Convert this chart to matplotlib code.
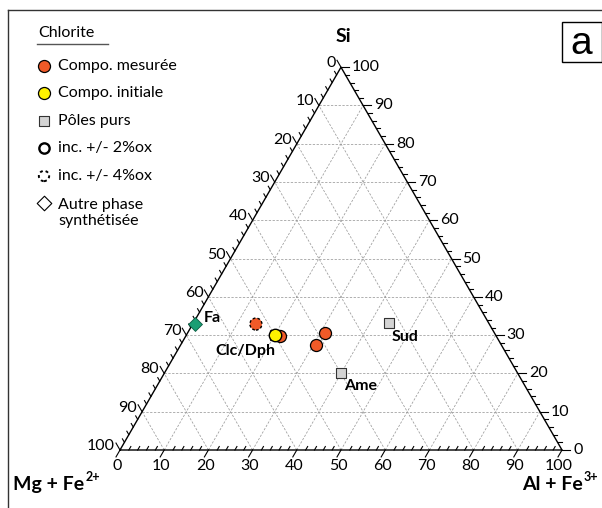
import matplotlib
matplotlib.use('Agg')
import matplotlib.pyplot as plt
from matplotlib.patches import Rectangle
from matplotlib.lines import Line2D
import numpy as np

plt.rcParams['font.family'] = ['Lato', 'DejaVu Sans']

# compositions in % : Si (top), Al + Fe3+ (right); Mg + Fe2+ is the remainder
mesure_si = [29.8, 30.6, 27.4]
mesure_al = [21.3, 31.1, 30.6]
mesure4_si = [32.9]
mesure4_al = [14.3]
initiale_si = [30.0]
initiale_al = [20.0]
pole_names = ['Clc/Dph', 'Sud', 'Ame']
pole_si = [30.0, 33.2, 20.0]
pole_al = [20.0, 44.3, 40.0]
autre_names = ['Fa']
autre_si = [33.0]
autre_al = [0.5]

major = list(range(0, 101, 10))
minor = [v for v in range(0, 101, 2) if v % 10]

W, H = 602, 508
SCALE = 442.0          # triangle side in pixels
X0, Y0 = 120.0, 450.0  # bottom-left corner in pixels
H3 = np.sqrt(3) / 2


def tern(si, al):
    si = np.asarray(si, float) / 100
    al = np.asarray(al, float) / 100
    return al + si / 2, si * H3


def fpx(x, y):
    return x / W, 1 - y / H


def apx(x, y):
    # figure pixel -> axes data
    return (x - X0) / SCALE, (Y0 - y) / SCALE


fig = plt.figure(figsize=(W / 100, H / 100), dpi=100)
ax = fig.add_axes([0, 0, 1, 1])
ax.set_xlim(-X0 / SCALE, (W - X0) / SCALE)
ax.set_ylim((Y0 - H) / SCALE, Y0 / SCALE)
ax.set_aspect('equal')
ax.axis('off')

# grid
grid_kw = dict(color='#9a9a9a', lw=0.55, ls=(0, (3, 2)), zorder=1)
for v in major[1:-1]:
    x, y = tern([v, v], [0, 100 - v])
    ax.plot(x, y, **grid_kw)
    x, y = tern([0, 100 - v], [v, v])
    ax.plot(x, y, **grid_kw)
    x, y = tern([0, 100 - v], [100 - v, 0])
    ax.plot(x, y, **grid_kw)

# triangle
x, y = tern([0, 0, 100, 0], [0, 100, 0, 0])
ax.plot(x, y, color='black', lw=1.0, zorder=2)

tick_font = dict(fontsize=11.5)


def draw_ticks(vals, length, to_xy, direction, labels):
    dx, dy = direction
    for v in vals:
        x, y = to_xy(v)
        ax.plot([x, x + dx * length / SCALE], [y, y + dy * length / SCALE],
                color='black', lw=0.8, zorder=2)
        if labels:
            labels(v, x, y)


# right edge: Si
def right_xy(v):
    return tern(v, 100 - v)


def right_lab(v, x, y):
    ax.text(x + 11 / SCALE, y, str(v), ha='left', va='center', **tick_font)


draw_ticks(major, 8, right_xy, (1, 0), right_lab)
draw_ticks(minor, 4, right_xy, (1, 0), None)


# left edge: Mg + Fe2+
def left_xy(v):
    return tern(100 - v, 0)


def left_lab(v, x, y):
    ax.text(x - 5 / SCALE, y + 4 / SCALE, str(v), ha='right', va='center', **tick_font)


draw_ticks(major, 8, left_xy, (-0.5, H3), left_lab)
draw_ticks(minor, 4, left_xy, (-0.5, H3), None)


# bottom edge: Al + Fe3+
def bottom_xy(v):
    return tern(0, v)


def bottom_lab(v, x, y):
    ax.text(x - 3 / SCALE, y - 9 / SCALE, str(v), ha='center', va='top', **tick_font)


draw_ticks(major, 8, bottom_xy, (-0.5, -H3), bottom_lab)
draw_ticks(minor, 4, bottom_xy, (0.5, H3), None)

# points
orange = '#f05a28'
x, y = tern(pole_si, pole_al)
ax.scatter(x, y, s=60, marker='s', facecolor='#d4d4d4', edgecolor='#333333',
           linewidth=0.8, zorder=3)
offs = {'Clc/Dph': (-29, -16, 'center'), 'Sud': (2, -14, 'left'), 'Ame': (3, -13, 'left')}
for name, xi, yi in zip(pole_names, x, y):
    ox, oy, ha = offs[name]
    ax.annotate(name, (xi, yi), xytext=(ox, oy), textcoords='offset pixels',
                ha=ha, va='center', fontsize=11.5, fontweight='bold')

x, y = tern(autre_si, autre_al)
ax.scatter(x, y, s=50, marker='D', facecolor='#1a9e74', edgecolor='#0b5c42',
           linewidth=0.6, zorder=4)
for name, xi, yi in zip(autre_names, x, y):
    ax.annotate(name, (xi, yi), xytext=(9, 6), textcoords='offset pixels',
                ha='left', va='center', fontsize=11.5, fontweight='bold')

x, y = tern(mesure_si, mesure_al)
ax.scatter(x, y, s=75, facecolor=orange, edgecolor='black', linewidth=0.9, zorder=4)
x, y = tern(mesure4_si, mesure4_al)
ax.scatter(x, y, s=75, facecolor=orange, edgecolor='black', linewidth=1.0,
           linestyle=(0, (2, 1.5)), zorder=4)
x, y = tern(initiale_si, initiale_al)
ax.scatter(x, y, s=80, facecolor='#fff200', edgecolor='black', linewidth=1.0, zorder=5)

# axis titles
renderer = fig.canvas.get_renderer()
fig.text(*fpx(343, 36), 'Si', ha='center', va='center', fontsize=14, fontweight='bold')
for xs, base, sup in [(13, 'Mg + Fe', '2+'), (522, 'Al + Fe', '3+')]:
    t = fig.text(*fpx(xs, 490), base, ha='left', va='baseline', fontsize=14,
                 fontweight='bold')
    bb = t.get_window_extent(renderer=renderer)
    fig.text((bb.x1 + 1) / W, fpx(0, 477)[1], sup, ha='left', va='center',
             fontsize=9, fontweight='bold')

# legend
fig.text(*fpx(38, 33), 'Chlorite', ha='left', va='center', fontsize=11.5)
fig.add_artist(Line2D([37 / W, 108 / W], [1 - 43.5 / H, 1 - 43.5 / H],
                      color='#555555', lw=1.0))
leg_y = [66, 93, 121, 148, 176, 203]
leg_txt = ['Compo. mesurée', 'Compo. initiale', 'Pôles purs', 'inc. +/- 2%ox',
           'inc. +/- 4%ox', 'Autre phase\nsynthétisée']
leg_mk = [dict(marker='o', s=75, facecolor=orange, edgecolor='black', linewidth=0.9),
          dict(marker='o', s=75, facecolor='#fff200', edgecolor='black', linewidth=0.9),
          dict(marker='s', s=55, facecolor='#d4d4d4', edgecolor='#333333', linewidth=0.8),
          dict(marker='o', s=55, facecolor='white', edgecolor='black', linewidth=1.7),
          dict(marker='o', s=55, facecolor='white', edgecolor='black', linewidth=1.4,
               linestyle=(0, (1.5, 1.5))),
          dict(marker='D', s=55, facecolor='white', edgecolor='black', linewidth=0.8)]
for yy, txt, mk in zip(leg_y, leg_txt, leg_mk):
    mx, my = apx(44, yy)
    ax.scatter([mx], [my], zorder=5, **mk)
    ty = yy + 10 if '\n' in txt else yy
    fig.text(*fpx(58, ty), txt, ha='left', va='center', fontsize=11.5, linespacing=1.15)

# panel letter and frame
fig.add_artist(Rectangle(fpx(562, 62), 40 / W, 40 / H, transform=fig.transFigure,
                         facecolor='white', edgecolor='black', lw=1.0))
fig.text(*fpx(581, 44), 'a', ha='center', va='center', fontsize=28,
         family=['Liberation Sans', 'DejaVu Sans'])
fig.add_artist(Line2D([8 / W, 8 / W], [0, 1 - 10 / H], color='#333333', lw=1.0))
fig.add_artist(Line2D([8 / W, 1], [1 - 10 / H, 1 - 10 / H], color='#333333', lw=1.0))

fig.savefig('out.png', dpi=100)
